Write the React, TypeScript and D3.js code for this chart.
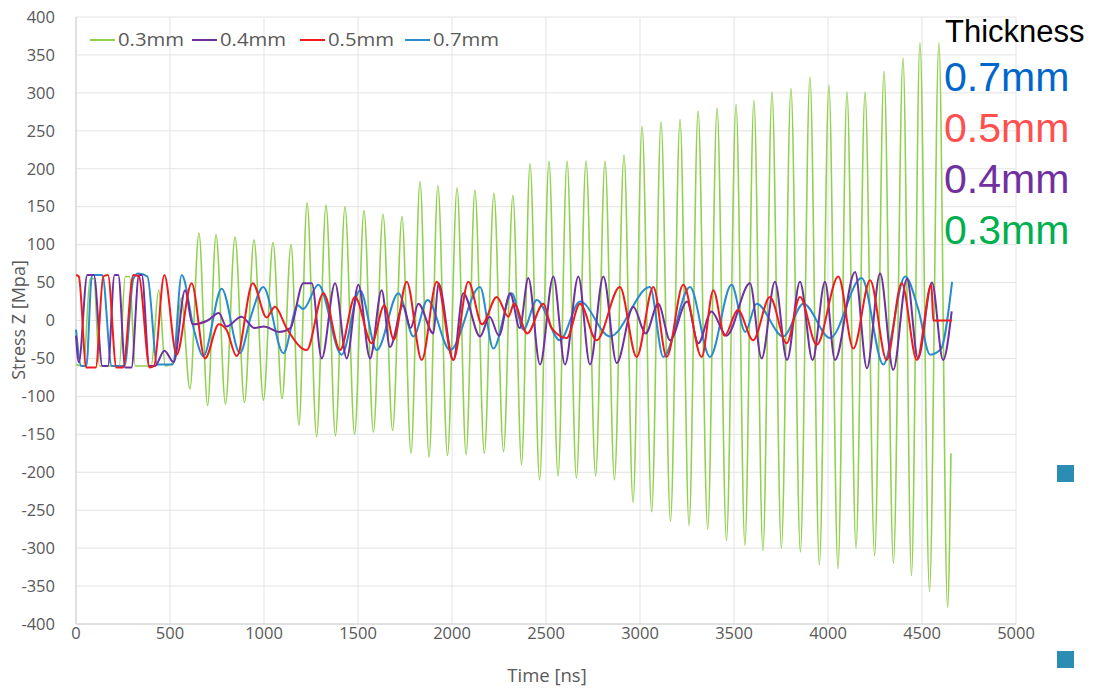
import React from "react";
import * as d3 from "d3";

const xTicks = [0, 500, 1000, 1500, 2000, 2500, 3000, 3500, 4000, 4500, 5000];
const yTicks = [400, 350, 300, 250, 200, 150, 100, 50, 0, -50, -100, -150, -200, -250, -300, -350, -400];

const seriesNames = ["0.3mm", "0.4mm", "0.5mm", "0.7mm"];
const thicknessLabels = ["0.7mm", "0.5mm", "0.4mm", "0.3mm"];

// 0.3mm (green) extrema: time [ns], stress [MPa]
const tGreen = [0, 40, 75, 95, 125, 230, 262, 285, 315, 400, 440, 475, 520, 560,
  606, 654, 700, 745, 795, 846, 896, 947, 997, 1048, 1096, 1144,
  1186, 1229, 1280, 1330, 1380, 1431, 1482, 1532, 1582, 1633, 1684, 1734,
  1782, 1830, 1878, 1925, 1976, 2027, 2075, 2122, 2172, 2223, 2274, 2324,
  2370, 2415, 2466, 2516, 2564, 2612, 2662, 2713, 2764, 2814, 2864, 2915,
  2963, 3011, 3062, 3112, 3162, 3213, 3261, 3309, 3360, 3410, 3460, 3511,
  3558, 3606, 3654, 3702, 3752, 3803, 3853, 3904, 3954, 4005, 4053, 4101,
  4149, 4197, 4248, 4298, 4348, 4399, 4444, 4489, 4540, 4590, 4636, 4654];
const vGreen = [-58, -60, 55, 55, -60, -60, 58, 58, -60, -60, 40, -60, -55, 30,
  -90, 115, -112, 113, -110, 110, -108, 106, -105, 103, -103, 100,
  -138, 155, -153, 152, -152, 150, -150, 145, -147, 140, -145, 137,
  -175, 183, -180, 178, -178, 175, -177, 172, -175, 168, -173, 165,
  -190, 207, -210, 210, -205, 210, -208, 210, -205, 210, -210, 218,
  -240, 256, -252, 262, -265, 265, -270, 276, -275, 280, -290, 285,
  -296, 290, -303, 301, -300, 306, -305, 321, -322, 310, -327, 301,
  -300, 301, -310, 328, -320, 346, -336, 366, -357, 366, -378, -175];

// 0.4mm (purple)
const tPurple = [0, 15, 60, 95, 140, 170, 205, 225, 262, 295, 335, 350, 390, 420, 470, 520, 580,
  620, 700, 760, 800, 880, 950, 1000, 1080, 1140, 1209, 1254, 1307, 1378, 1440, 1502, 1564,
  1626, 1670, 1740, 1780, 1821, 1901, 1928, 2007, 2060, 2149, 2200, 2250, 2309, 2360, 2406,
  2468, 2539, 2601, 2672, 2734, 2805, 2876, 2964, 3030, 3097, 3160, 3250, 3310, 3380, 3460,
  3585, 3647, 3718, 3782, 3851, 3918, 3984, 4037, 4144, 4207, 4277, 4347, 4420, 4479, 4553,
  4612, 4658];
const vPurple = [-20, -55, 60, 60, -60, -60, 60, 60, -62, -62, 60, 60, -60, -60, -40, -55, 40,
  -5, 0, 10, -8, 5, -10, -8, -15, -10, 49, 49, -50, 49, -50, 47, -50,
  40, -35, 20, -10, 22, -17, 49, -52, 36, -21, 5, -20, 36, -10, 56,
  -58, 58, -58, 58, -58, 58, -56, 18, -17, 22, -26, 25, -30, 12, -20,
  49, -50, 51, -52, 51, -52, 51, -52, 64, -63, 62, -65, 55, -50, 50,
  -52, 12];

// 0.5mm (red)
const tRed = [0, 15, 55, 105, 145, 170, 215, 250, 305, 335, 392, 415, 470, 535, 615, 686,
  760, 800, 855, 940, 1014, 1058, 1120, 1227, 1316, 1405, 1484, 1573, 1640, 1690, 1759,
  1839, 1919, 2007, 2087, 2160, 2238, 2300, 2330, 2400, 2486, 2530, 2610, 2681, 2769,
  2893, 2982, 3071, 3142, 3230, 3328, 3390, 3450, 3520, 3602, 3691, 3780, 3851, 3940,
  4055, 4135, 4224, 4312, 4392, 4473, 4550, 4560, 4660];
const vRed = [60, 58, -62, -62, 58, 60, -62, -62, 60, 58, -62, -60, 60, -45, 49, -50,
  -5, -12, -47, 49, 4, 18, -10, -39, 36, -39, 31, -30, 20, -25, 51,
  -52, 51, -52, 51, -5, 31, 5, 22, -17, 22, -10, -23, 22, -26,
  44, -48, 44, -48, 47, -48, 40, -20, 14, -26, 31, -30, 31, -32,
  58, -37, 53, -52, 49, -52, 47, 0, 0];

// 0.7mm (blue)
const tBlue = [0, 28, 55, 85, 140, 190, 258, 305, 331, 380, 432, 515, 562, 630, 677, 775,
  872, 930, 996, 1103, 1180, 1209, 1289, 1413, 1511, 1600, 1715, 1795, 1870, 1990, 2149,
  2220, 2318, 2380, 2451, 2574, 2681, 2840, 3053, 3124, 3266, 3372, 3487, 3560, 3620,
  3762, 3869, 4011, 4179, 4294, 4410, 4480, 4543, 4600, 4660];
const vBlue = [-12, -60, -60, 60, 60, -60, -60, 55, 62, 58, -58, -58, 60, -15, -47, 42,
  -43, 5, 44, -43, 20, 15, 47, -45, 40, -39, 36, -21, 27, -39, 44,
  -37, 36, -12, 27, -26, 25, -21, 44, -48, 44, -48, 47, -15, 22,
  -21, 22, -23, 56, -58, 58, 15, -45, -38, 51];

const W = 1096;
const H = 692;

export default function App() {
  React.useEffect(() => {
    document.body.style.margin = "0";
  }, []);

  const x = d3.scaleLinear().domain([0, 5000]).range([76, 1016]);
  const y = d3.scaleLinear().domain([-400, 400]).range([624, 17]);

  const mk = (ts: number[], vs: number[]) =>
    d3
      .line<number>()
      .x((_, i) => x(ts[i]))
      .y((d) => y(d))
      .curve(d3.curveMonotoneX)(vs) || "";

  const series = [
    { name: seriesNames[0], color: "#92d050", d: mk(tGreen, vGreen), w: 1.6 },
    { name: seriesNames[1], color: "#7030a0", d: mk(tPurple, vPurple), w: 2 },
    { name: seriesNames[2], color: "#ee1c1c", d: mk(tRed, vRed), w: 2 },
    { name: seriesNames[3], color: "#2a8ccc", d: mk(tBlue, vBlue), w: 2 },
  ];
  const drawOrder = [0, 3, 1, 2];
  const legendX = [90, 192, 300, 405];
  const thickColors = ["#0066cc", "#ff5050", "#7030a0", "#00b050"];
  const tickFont = "'Open Sans', sans-serif";

  return (
    <svg width={W} height={H} style={{ display: "block", background: "#fff" }}>
      {/* grid */}
      {yTicks.map((t) => (
        <line key={"gy" + t} x1={x(0)} x2={x(5000)} y1={y(t)} y2={y(t)} stroke="#e3e3e3" strokeWidth={1} />
      ))}
      {xTicks.map((t) => (
        <line key={"gx" + t} x1={x(t)} x2={x(t)} y1={y(400)} y2={y(-400)} stroke="#e3e3e3" strokeWidth={1} />
      ))}
      <line x1={x(0)} x2={x(0)} y1={y(400)} y2={y(-400)} stroke="#d0d0d0" />
      <line x1={x(0)} x2={x(5000)} y1={y(-400)} y2={y(-400)} stroke="#d0d0d0" />

      {/* series */}
      {drawOrder.map((i) => (
        <path key={series[i].name} d={series[i].d} fill="none" stroke={series[i].color} strokeWidth={series[i].w} strokeLinejoin="round" />
      ))}

      {/* y tick labels */}
      {yTicks.map((t) => (
        <text key={"ly" + t} x={55} y={y(t)} dy="0.35em" textAnchor="end" fontFamily={tickFont} fontSize={16.5} fill="#595959">
          {t}
        </text>
      ))}
      {/* x tick labels */}
      {xTicks.map((t) => (
        <text key={"lx" + t} x={x(t)} y={639} textAnchor="middle" fontFamily={tickFont} fontSize={16.5} fill="#595959">
          {t}
        </text>
      ))}
      <text x={547} y={682} textAnchor="middle" fontFamily={tickFont} fontSize={18.5} fill="#595959">
        Time [ns]
      </text>
      <text transform="translate(25,320) rotate(-90)" textAnchor="middle" fontFamily={tickFont} fontSize={18} fill="#595959">
        Stress Z [Mpa]
      </text>

      {/* legend */}
      {series.map((s, i) => (
        <g key={"lg" + s.name} transform={`translate(${legendX[i]},40)`}>
          <line x1={0} x2={25} y1={0} y2={0} stroke={s.color} strokeWidth={2} />
          <text x={28} y={0} dy="0.35em" fontFamily={tickFont} fontSize={18} fill="#595959" textLength={66} lengthAdjust="spacingAndGlyphs">
            {s.name}
          </text>
        </g>
      ))}

      {/* thickness annotation */}
      <text x={945} y={42} fontFamily="'Liberation Sans', Arial, sans-serif" fontSize={31} fill="#000">
        Thickness
      </text>
      {thicknessLabels.map((l, i) => (
        <text key={"th" + l} x={944} y={91 + i * 51} fontFamily="'Liberation Sans', Arial, sans-serif" fontSize={41} fill={thickColors[i]}>
          {l}
        </text>
      ))}

      {/* small teal squares */}
      <rect x={1057} y={465} width={17} height={17} fill="#2b8db3" />
      <rect x={1057} y={651} width={17} height={17} fill="#2b8db3" />
    </svg>
  );
}
